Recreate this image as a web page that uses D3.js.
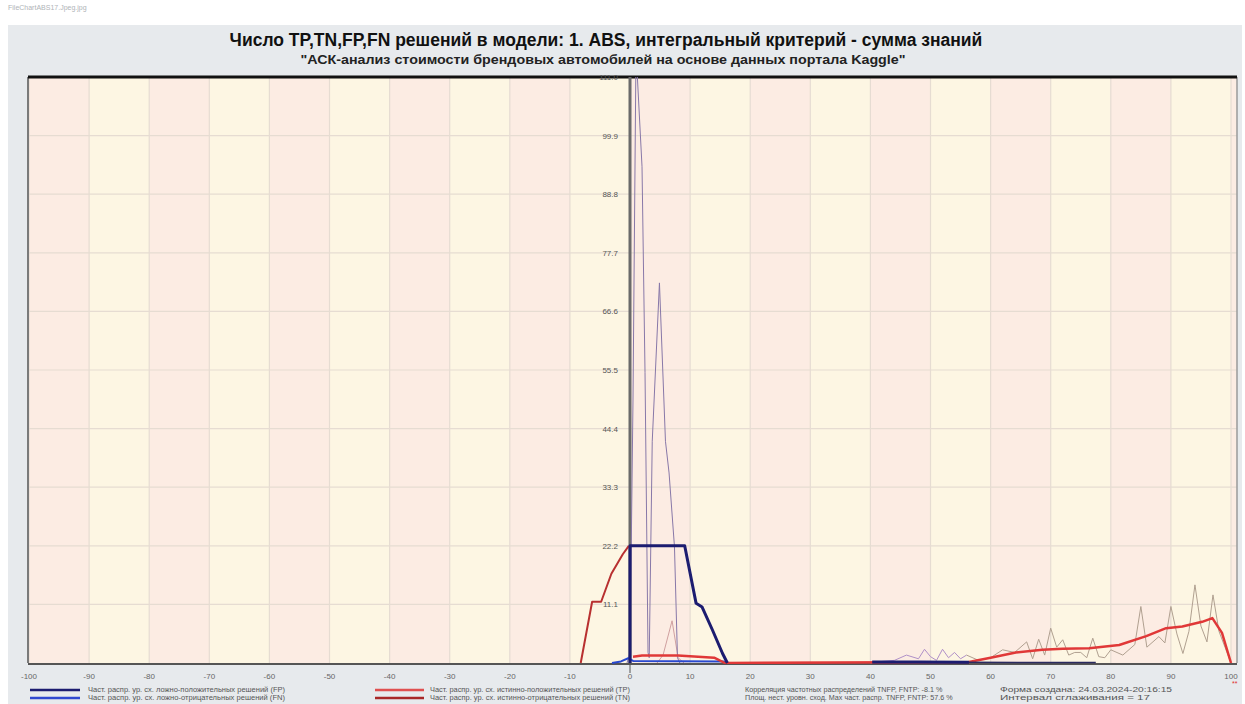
<!DOCTYPE html>
<html><head><meta charset="utf-8">
<script src="https://cdn.jsdelivr.net/npm/d3@7"></script>
<style>body{margin:0;background:#fff}svg{display:block}text{font-family:"Liberation Sans",Arial,sans-serif}</style>
</head><body><svg id="c" width="1245" height="704"></svg>
<script>
const titleText = "Число TP,TN,FP,FN решений в модели: 1. ABS, интегральный критерий - сумма знаний";
const subtitleText = "\"АСК-анализ стоимости брендовых автомобилей на основе данных портала Kaggle\"";
const fileName = "FileChartABS17.Jpeg.jpg";
const xTicks = [-100,-90,-80,-70,-60,-50,-40,-30,-20,-10,0,10,20,30,40,50,60,70,80,90,100];
const yTicks = [11.1,22.2,33.3,44.4,55.5,66.6,77.7,88.8,99.9,111.0];
const yTickLabels = ["11.1","22.2","33.3","44.4","55.5","66.6","77.7","88.8","99.9","111.0"];

// thick smoothed distributions
const tnX = [-8.2,-6.3,-4.8,-3.1,-1.2,-0.2];
const tnY = [0,11.6,11.6,16.9,20.6,22.2];
const fpX = [0,0,9.1,11.0,12.0,13.7,15.4,16.2];
const fpY = [0,22.2,22.2,11.3,10.6,6.3,1.8,0];
const fpRX = [40.3,48,56.4];
const fpRY = [0.2,0.2,0.15];
const fpTailX = [56.4,65,77.5];
const fpTailY = [0.15,0.1,0.1];
const fnX = [-3.0,-1.5,-0.3,0.5,8,15.5,16.2];
const fnY = [0,0.3,0.9,0.4,0.35,0.3,0];
const tpX = [0.5,2,8,14,15.8, 56.4,60,64.2,68.6,72,76.4,81.4,85.9,89.2,91.9,95.2,96.9,98.5,100];
const tpY = [1.2,1.4,1.4,1.0,0, 0.2,1.0,2.0,2.5,2.7,2.8,3.4,5.1,6.6,6.9,7.8,8.5,5.7,0];

// thin raw frequencies
const rawAX = [-0.5,0,0.5,1,2,2.5,3,3.2,3.7,4.9,5.9,6.5,7.4,7.9,8.3];
const rawAY = [0,2,50,116,94,55,2,1,42,72,42,36,22,1,0];
const rawBX = [4.5,5.5,7,8,9];
const rawBY = [0,1.5,8,1,0];
const rawCX = [40,42,44,46,48,49,50,51,52,53,54,55,56];
const rawCY = [0,0.3,0.5,1.5,0.8,2.6,1.2,0.5,2.6,1.0,2.0,0.8,1.5];
const rawDX = [56,58,60,62,64,66,67,68,69,70,71,72,73,74,75,76,77,78,79,80,82,84,85,86,88,89,90,91,92,93,94,95,96,97,98,99,100];
const rawDY = [1.5,0.5,1.0,2.5,2.0,4.0,0.8,4.5,1.5,6.6,3.0,4.4,1.5,2.0,2.0,1.0,4.7,1.2,1.0,2.5,1.5,3.5,10.7,3.0,5.0,3.8,10.7,5.5,1.8,6.0,14.8,7.0,4.0,12.9,6.0,3.0,0];

const legendLeft = ["Част. распр. ур. сх. ложно-положительных решений  (FP)","Част. распр. ур. сх. ложно-отрицательных решений  (FN)"];
const legendMid = ["Част. распр. ур. сх. истинно-положительных решений  (TP)","Част. распр. ур. сх. истинно-отрицательных решений  (TN)"];
const statsText = ["Корреляция частотных распределений TNFP, FNTP: -8.1 %","Площ. нест. уровн. сход. Max част. распр. TNFP, FNTP: 57.6 %"];
const infoText = ["Форма создана: 24.03.2024-20:16:15","Интервал сглаживания = 17"];

const svg = d3.select("#c");
const L=28, R=1237, T=77, B=663;
const x = d3.scaleLinear([-100,100],[29,1231]);
const y = d3.scaleLinear([0,111],[B,T]);

svg.append("text").attr("x",8).attr("y",10).attr("font-size",7).attr("fill","#b0b4b8").text(fileName);
svg.append("rect").attr("x",8).attr("y",25).attr("width",1234).attr("height",679).attr("fill","#e7eaed");

// bands
const cells = d3.range(20);
svg.append("g").selectAll("rect").data(cells).join("rect")
  .attr("x",i=>x(-100+i*10)).attr("width",i=>x(-90+i*10)-x(-100+i*10))
  .attr("y",T).attr("height",B-T)
  .attr("fill",i=>i%2===0?"#fcece3":"#fdf6e3");
svg.append("rect").attr("x",x(100)).attr("y",T).attr("width",R-x(100)).attr("height",B-T).attr("fill","#fcece3");
// grid
svg.append("g").selectAll("line").data(xTicks).join("line")
  .attr("x1",d=>x(d)).attr("x2",d=>x(d)).attr("y1",T).attr("y2",B)
  .attr("stroke","#e6dcd2").attr("stroke-width",1.2);
svg.append("g").selectAll("line").data(yTicks).join("line")
  .attr("x1",L).attr("x2",R).attr("y1",d=>y(d)).attr("y2",d=>y(d))
  .attr("stroke","#e6dcd2").attr("stroke-width",1.2);

// borders
svg.append("line").attr("x1",L).attr("x2",L).attr("y1",T).attr("y2",B).attr("stroke","#7a7a7a").attr("stroke-width",2);
svg.append("line").attr("x1",R).attr("x2",R).attr("y1",T).attr("y2",B).attr("stroke","#9a9a9a").attr("stroke-width",1.5);
svg.append("line").attr("x1",L).attr("x2",R).attr("y1",T).attr("y2",T).attr("stroke","#111").attr("stroke-width",3);
svg.append("line").attr("x1",L).attr("x2",R).attr("y1",B+1).attr("y2",B+1).attr("stroke","#555").attr("stroke-width",2);
// y axis line at 0
svg.append("line").attr("x1",x(0)).attr("x2",x(0)).attr("y1",T).attr("y2",B).attr("stroke","#6a6a6a").attr("stroke-width",3);
svg.append("line").attr("x1",x(0)).attr("x2",x(0)).attr("y1",B).attr("y2",B+10).attr("stroke","#555").attr("stroke-width",1);

// y labels
svg.append("g").selectAll("text").data(yTicks).join("text")
  .attr("x",x(0)-12).attr("y",d=>y(d)+3).attr("text-anchor","end").attr("font-size",8).attr("fill","#555")
  .text((d,i)=>yTickLabels[i]);
// x labels
svg.append("g").selectAll("text").data(xTicks).join("text")
  .attr("x",d=>x(d)).attr("y",679).attr("text-anchor","middle").attr("font-size",8).attr("fill","#666")
  .text(d=>d);

svg.append("clipPath").attr("id","pc").append("rect").attr("x",L).attr("y",T).attr("width",R-L).attr("height",B-T+1);
const g = svg.append("g").attr("clip-path","url(#pc)");
const line = d3.line().x(d=>x(d[0])).y(d=>y(d[1]));
function draw(xs,ys,color,w){
  g.append("path").datum(xs.map((v,i)=>[v,ys[i]])).attr("d",line).attr("fill","none")
   .attr("stroke",color).attr("stroke-width",w).attr("stroke-linejoin","round");
}
draw(rawCX,rawCY,"#b090c8",1);
draw(rawDX,rawDY,"#b0a090",1);
draw(rawBX,rawBY,"#d0a0a0",1);
draw(rawAX,rawAY,"#8878a8",1);
draw(fnX,fnY,"#2848d0",2);
draw(tnX,tnY,"#b83030",2);
draw(tpX,tpY,"#e03838",2.5);
draw(fpTailX,fpTailY,"#2a2a60",1.5);
draw(fpRX,fpRY,"#1c1c70",3);
draw(fpX,fpY,"#1c1c70",3);

// legend
const ly=[690,698];
const fs=7.2;
[["#1c1c70",legendLeft[0]],["#3048d0",legendLeft[1]]].forEach((d,i)=>{
  svg.append("line").attr("x1",30).attr("x2",80).attr("y1",ly[i]).attr("y2",ly[i]).attr("stroke",d[0]).attr("stroke-width",2.5);
  svg.append("text").attr("x",88).attr("y",ly[i]+2).attr("font-size",fs).attr("fill","#555").attr("textLength",197).attr("lengthAdjust","spacingAndGlyphs").text(d[1]);
});
[["#e05050",legendMid[0]],["#a82828",legendMid[1]]].forEach((d,i)=>{
  svg.append("line").attr("x1",375).attr("x2",424).attr("y1",ly[i]).attr("y2",ly[i]).attr("stroke",d[0]).attr("stroke-width",2.5);
  svg.append("text").attr("x",430).attr("y",ly[i]+2).attr("font-size",fs).attr("fill","#555").attr("textLength",200).attr("lengthAdjust","spacingAndGlyphs").text(d[1]);
});
statsText.forEach((t,i)=>svg.append("text").attr("x",745).attr("y",ly[i]+2).attr("font-size",fs).attr("fill","#555").text(t));
infoText.forEach((t,i)=>svg.append("text").attr("x",1000).attr("y",ly[i]+2).attr("font-size",fs).attr("fill","#555").attr("textLength",i===0?172:150).attr("lengthAdjust","spacingAndGlyphs").text(t));
svg.append("text").attr("x",1232).attr("y",686).attr("font-size",7).attr("fill","#e03030").text("**");

svg.append("text").attr("x",606).attr("y",46).attr("text-anchor","middle").attr("font-size",17.5).attr("font-weight","bold").attr("fill","#111").text(titleText);
svg.append("text").attr("x",603).attr("y",64).attr("text-anchor","middle").attr("font-size",12).attr("font-weight","bold").attr("fill","#222").attr("textLength",605).attr("lengthAdjust","spacingAndGlyphs").text(subtitleText);
</script></body></html>
